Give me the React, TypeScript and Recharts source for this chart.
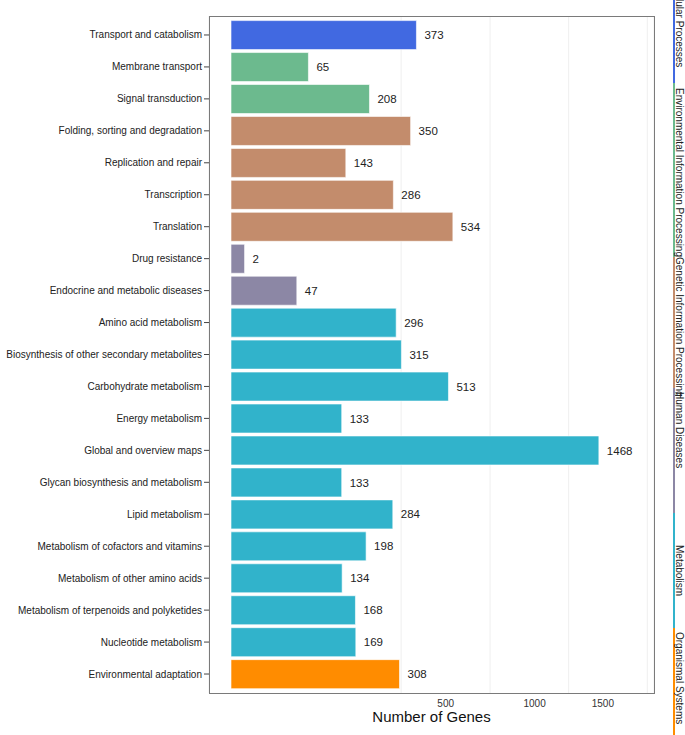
import { BarChart, Bar, XAxis, YAxis, Cell, LabelList, CartesianGrid } from "recharts"

const categories = [
  "Transport and catabolism",
  "Membrane transport",
  "Signal transduction",
  "Folding, sorting and degradation",
  "Replication and repair",
  "Transcription",
  "Translation",
  "Drug resistance",
  "Endocrine and metabolic diseases",
  "Amino acid metabolism",
  "Biosynthesis of other secondary metabolites",
  "Carbohydrate metabolism",
  "Energy metabolism",
  "Global and overview maps",
  "Glycan biosynthesis and metabolism",
  "Lipid metabolism",
  "Metabolism of cofactors and vitamins",
  "Metabolism of other amino acids",
  "Metabolism of terpenoids and polyketides",
  "Nucleotide metabolism",
  "Environmental adaptation",
]
const geneCounts = [373, 65, 208, 350, 143, 286, 534, 2, 47, 296, 315, 513, 133, 1468, 133, 284, 198, 134, 168, 169, 308]
const categoryGroup = [0, 1, 1, 2, 2, 2, 2, 3, 3, 4, 4, 4, 4, 4, 4, 4, 4, 4, 4, 4, 5]

const groupNames = [
  "Cellular Processes",
  "Environmental Information Processing",
  "Genetic Information Processing",
  "Human Diseases",
  "Metabolism",
  "Organismal Systems",
]
const groupColors = ["#4169E1", "#6CBA8E", "#C38C6C", "#8C87A5", "#31B3CB", "#FF8C00"]

const xTicks = [500, 1000, 1500]
const minorGrid = [314, 728, 1237, 1880]

const data = categories.map((name, i) => ({ name, genes: geneCounts[i], group: categoryGroup[i] }))

// side strip layout (pixels), one entry per group
const stripSpans = [[-30, 83], [83, 257], [257, 388], [388, 513], [513, 628], [628, 745]]
const stripTextStart = [-16, 88, 257, 392, 545, 632]

const font = "'Liberation Sans', Arial, Helvetica, sans-serif"

function GroupStrip() {
  return (
    <svg width={685} height={735} style={{ position: "absolute", left: 0, top: 0, pointerEvents: "none" }}>
      {groupNames.map((g, i) => (
        <g key={g}>
          <line x1={674} x2={674} y1={stripSpans[i][0]} y2={stripSpans[i][1]} stroke={groupColors[i]} strokeWidth={2} />
          <text
            transform={`translate(676, ${stripTextStart[i]}) rotate(90)`}
            fontSize={10}
            fill="#222"
            fontFamily={font}
          >
            {g}
          </text>
        </g>
      ))}
    </svg>
  )
}

const AxisTitle = ({ viewBox }: any) => (
  <text x={viewBox.x + viewBox.width / 2} y={viewBox.y + 29} textAnchor="middle" fontSize={15} fill="#111" fontFamily={font}>
    Number of Genes
  </text>
)

const CategoryTick = ({ x, y, payload }: any) => (
  <text x={x} y={y} dy="0.35em" textAnchor="end" fontSize={10} fill="#222" fontFamily={font}>
    {payload.value}
  </text>
)

export default function App() {
  return (
    <div style={{ position: "absolute", left: 0, top: 0, width: 685, height: 735, background: "#fff", fontFamily: font }}>
      <BarChart
        width={685}
        height={735}
        data={data}
        layout="vertical"
        margin={{ top: 16, right: 31, bottom: 0, left: 0 }}
        barCategoryGap="5%"
      >
        <CartesianGrid xAxisId="grid" horizontal={false} stroke="#efefef" />
        <XAxis
          type="number"
          dataKey="genes"
          scale="sqrt"
          domain={[0, 1941]}
          ticks={xTicks}
          padding={{ left: 22, right: 0 }}
          tickLine={false}
          axisLine={false}
          tick={{ fontSize: 10, fill: "#333" }}
          tickMargin={1}
          height={42}
          label={<AxisTitle />}
          allowDataOverflow
        />
        <XAxis
          xAxisId="grid"
          type="number"
          dataKey="genes"
          scale="sqrt"
          domain={[0, 1941]}
          ticks={minorGrid}
          padding={{ left: 22, right: 0 }}
          hide
          allowDataOverflow
        />
        <YAxis
          type="category"
          dataKey="name"
          width={209}
          padding={{ top: 3, bottom: 3 }}
          axisLine={false}
          tickSize={5}
          tickMargin={2}
          tickLine={{ stroke: "#444" }}
          tick={<CategoryTick />}
          interval={0}
        />
        <Bar dataKey="genes" isAnimationActive={false} stroke="#ffffff" strokeOpacity={0.6}>
          {data.map((d, i) => (
            <Cell key={i} fill={groupColors[d.group]} />
          ))}
          <LabelList dataKey="genes" position="right" offset={8} fontSize={11.5} fill="#222" />
        </Bar>
      </BarChart>
      <div
        style={{
          position: "absolute",
          left: 209,
          top: 16,
          width: 446,
          height: 678,
          border: "1.5px solid #7a7a7a",
          boxSizing: "border-box",
          pointerEvents: "none",
        }}
      />
      <GroupStrip />
    </div>
  )
}
